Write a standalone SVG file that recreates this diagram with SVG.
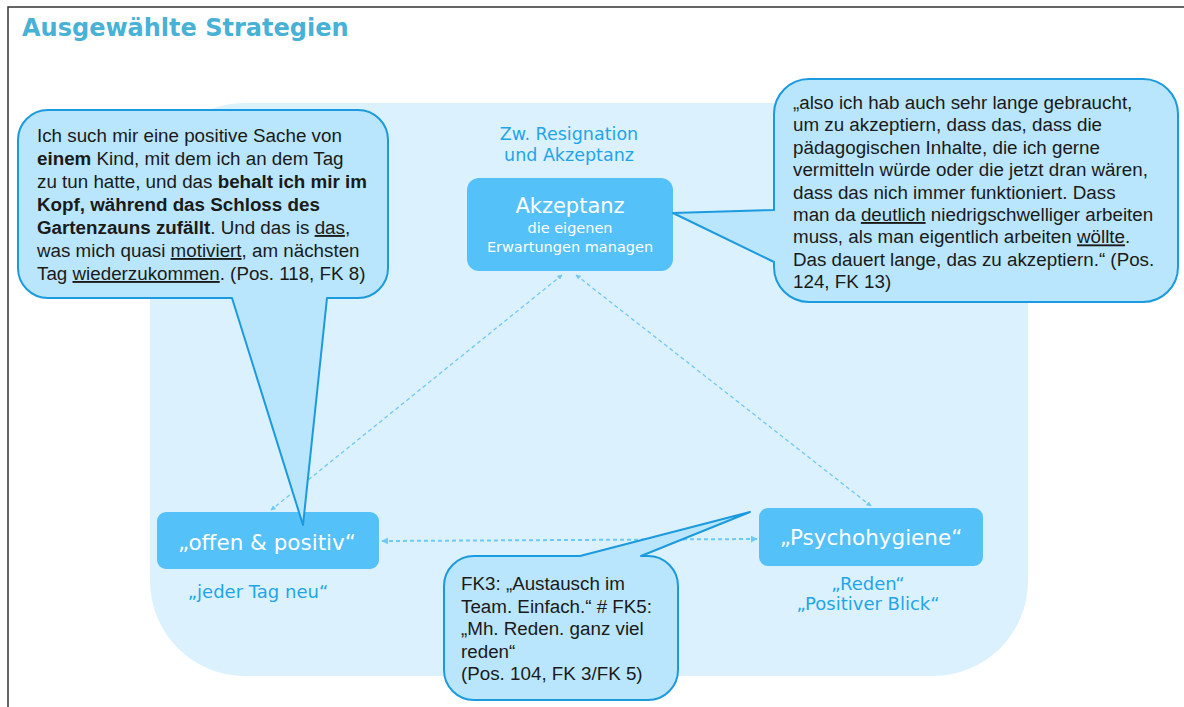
<svg xmlns="http://www.w3.org/2000/svg" width="1184" height="707" viewBox="0 0 1184 707">
<defs>
<style>
.frame{stroke:#333;stroke-width:1.5;fill:none}
.panel{fill:#dbf1fd}
.node{fill:#54c1f8}
.nt{font-family:"DejaVu Sans",Verdana,sans-serif;fill:#fff;text-anchor:middle}
.lbl{font-family:"DejaVu Sans",Verdana,sans-serif;fill:#1ea5ea;text-anchor:middle;font-size:17.5px}
.call{fill:#b9e6fc;stroke:#1b9ae0;stroke-width:2;stroke-linejoin:round}
.ct{font-family:"Liberation Sans",Arial,sans-serif;font-size:18.8px;fill:#1a1a1a}
.b{font-weight:bold}
.u{text-decoration:underline}
.con{stroke:#6fc9f5;stroke-width:1.3;stroke-dasharray:4 3;fill:none;marker-start:url(#ah);marker-end:url(#ah)}
.con2{stroke-width:2}
</style>
<marker id="ah" viewBox="0 0 10 10" refX="9" refY="5" markerWidth="5" markerHeight="5" markerUnits="userSpaceOnUse" orient="auto-start-reverse">
<path d="M0,0 L10,5 L0,10 Z" fill="#6fc9f5"/>
</marker>
<marker id="ah2" viewBox="0 0 10 10" refX="9" refY="5" markerWidth="7" markerHeight="7" markerUnits="userSpaceOnUse" orient="auto-start-reverse">
<path d="M0,0 L10,5 L0,10 Z" fill="#6fc9f5"/>
</marker>
</defs>
<rect width="1184" height="707" fill="#fff"/>
<path class="frame" d="M8,707 V7 H1184"/>
<text x="22" y="36" font-family="DejaVu Sans,Verdana,sans-serif" font-weight="bold" font-size="24" fill="#47b1d6">Ausgewählte Strategien</text>
<rect class="panel" x="150" y="103" width="878" height="573" rx="95" ry="95"/>
<g id="connectors">
<line class="con" x1="562" y1="275" x2="271" y2="510"/>
<line class="con" x1="576" y1="275" x2="871" y2="506"/>
<line class="con con2" x1="382" y1="541" x2="757" y2="539" style="marker-start:url(#ah2);marker-end:url(#ah2)"/>
</g>
<g id="akzeptanz">
<text class="lbl" x="569" y="140">Zw. Resignation</text>
<text class="lbl" x="569" y="161">und Akzeptanz</text>
<rect class="node" x="467" y="178" width="206" height="93" rx="12"/>
<text class="nt" x="570" y="213" font-size="21">Akzeptanz</text>
<text class="nt" x="570" y="233" font-size="14.5">die eigenen</text>
<text class="nt" x="570" y="252" font-size="14.5">Erwartungen managen</text>
</g>
<g id="offen">
<rect class="node" x="157" y="512" width="222" height="57" rx="9"/>
<text class="nt" x="267" y="550" font-size="21.5">„offen &amp; positiv“</text>
<text class="lbl" x="258" y="598" style="font-size:18px">„jeder Tag neu“</text>
</g>
<g id="psychohygiene">
<rect class="node" x="759" y="508" width="224" height="58" rx="9"/>
<text class="nt" x="871" y="545" font-size="21.5">„Psychohygiene“</text>
<text class="lbl" x="868" y="590" style="font-size:18px">„Reden“</text>
<text class="lbl" x="868" y="610" style="font-size:18px">„Positiver Blick“</text>
</g>
<g id="callout-left">
<path class="call" d="M48,110 H358 A30,30 0 0 1 388,140 V268 A30,30 0 0 1 358,298 H327 L303,525 L232,298 H48 A30,30 0 0 1 18,268 V140 A30,30 0 0 1 48,110 Z"/>
<text class="ct" x="37" y="142">Ich such mir eine positive Sache von</text>
<text class="ct" x="37" y="165"><tspan class="b">einem</tspan> Kind, mit dem ich an dem Tag</text>
<text class="ct" x="37" y="188">zu tun hatte, und das <tspan class="b">behalt ich mir im</tspan></text>
<text class="ct b" x="37" y="211">Kopf, während das Schloss des</text>
<text class="ct" x="37" y="234"><tspan class="b">Gartenzauns zufällt</tspan>. Und das is <tspan class="u">das</tspan>,</text>
<text class="ct" x="37" y="257">was mich quasi <tspan class="u">motiviert</tspan>, am nächsten</text>
<text class="ct" x="37" y="280">Tag <tspan class="u">wiederzukommen</tspan>. (Pos. 118, FK 8)</text>
</g>
<g id="callout-right">
<path class="call" d="M809,79 H1143 A35,35 0 0 1 1178,114 V267 A35,35 0 0 1 1143,302 H809 A35,35 0 0 1 774,267 V262 L673,213 L774,210 V114 A35,35 0 0 1 809,79 Z"/>
<text class="ct" x="793" y="109">„also ich hab auch sehr lange gebraucht,</text>
<text class="ct" x="793" y="131.4">um zu akzeptiern, dass das, dass die</text>
<text class="ct" x="793" y="153.8">pädagogischen Inhalte, die ich gerne</text>
<text class="ct" x="793" y="176.2">vermitteln würde oder die jetzt dran wären,</text>
<text class="ct" x="793" y="198.6">dass das nich immer funktioniert. Dass</text>
<text class="ct" x="793" y="221">man da <tspan class="u">deutlich</tspan> niedrigschwelliger arbeiten</text>
<text class="ct" x="793" y="243.4">muss, als man eigentlich arbeiten <tspan class="u">wöllte</tspan>.</text>
<text class="ct" x="793" y="265.8">Das dauert lange, das zu akzeptiern.“ (Pos.</text>
<text class="ct" x="793" y="288">124, FK 13)</text>
</g>
<g id="callout-bottom">
<path class="call" d="M474,556 H580 L750,512 L641,556 H648 A30,30 0 0 1 678,586 V670 A30,30 0 0 1 648,700 H474 A30,30 0 0 1 444,670 V586 A30,30 0 0 1 474,556 Z"/>
<text class="ct" x="461" y="590">FK3: „Austausch im</text>
<text class="ct" x="461" y="612.5">Team. Einfach.“ # FK5:</text>
<text class="ct" x="461" y="635">„Mh. Reden. ganz viel</text>
<text class="ct" x="461" y="657.5">reden“</text>
<text class="ct" x="461" y="680">(Pos. 104, FK 3/FK 5)</text>
</g>
</svg>
